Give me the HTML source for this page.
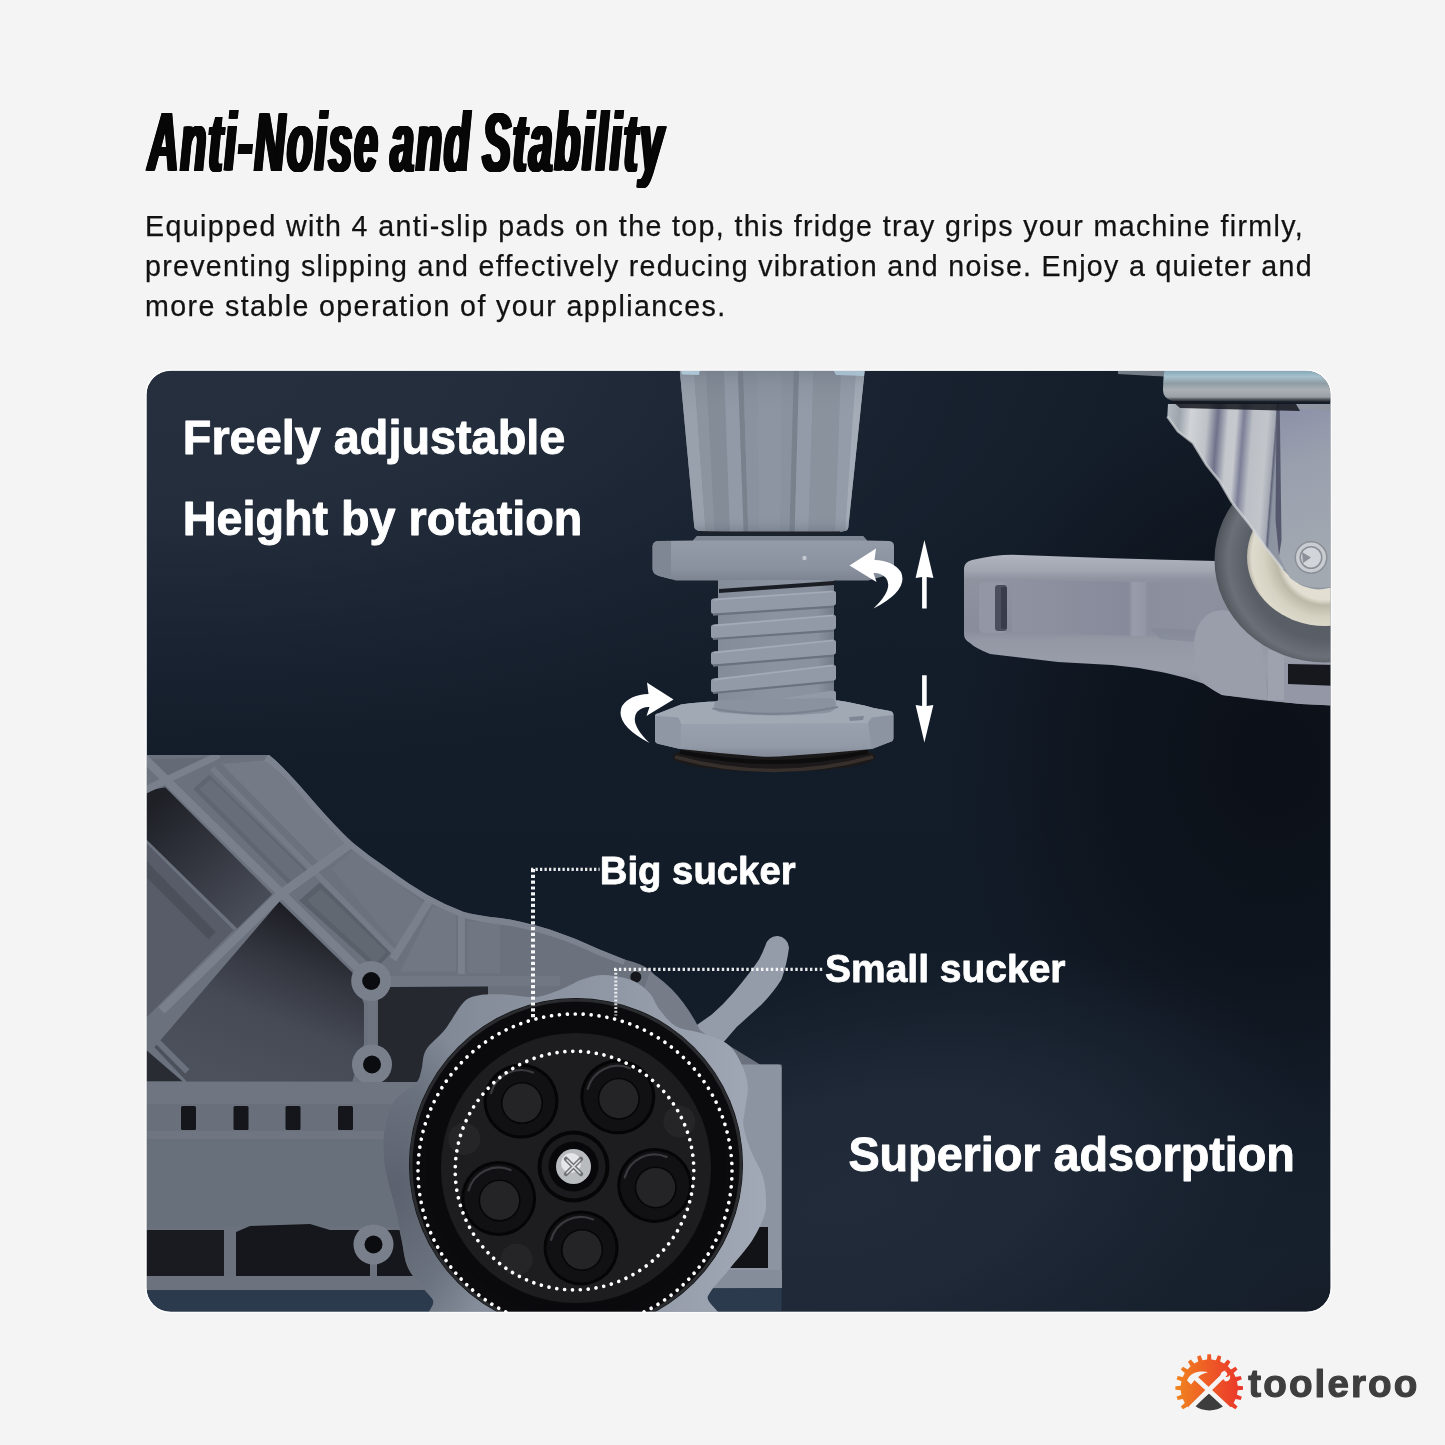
<!DOCTYPE html>
<html lang="en">
<head>
<meta charset="utf-8">
<title>Anti-Noise and Stability</title>
<style>
*{box-sizing:border-box;margin:0;padding:0}
html,body{width:1445px;height:1445px;overflow:hidden;background:#f4f4f4}
body{font-family:"Liberation Sans",Arial,sans-serif;color:#111}
#page{position:relative;width:1445px;height:1445px;background:#f4f4f4;overflow:hidden}
h1.title{position:absolute;left:147.5px;top:95px;font:italic bold 84.3px/94px "Liberation Sans",sans-serif;color:#070707;white-space:nowrap;transform-origin:0 0;transform:scaleX(.5);letter-spacing:4.2px;word-spacing:-6px;
 text-shadow:1px 0 0 #070707,2px 0 0 #070707,3px 0 0 #070707,3.6px 0 0 #070707,-1px 0 0 #070707,-2px 0 0 #070707,-3px 0 0 #070707,-3.6px 0 0 #070707}
.desc{position:absolute;left:145px;top:0;will-change:transform;color:#121212;-webkit-text-stroke:.25px #121212;font:28.6px/40px "Liberation Sans",sans-serif;white-space:nowrap}
.desc span{position:absolute;left:0;display:block;height:40px}
#art{position:absolute;left:0;top:0;width:1445px;height:1445px;will-change:transform}
#art text{font-family:"Liberation Sans",Arial,sans-serif;font-weight:700;fill:#fff}
</style>
</head>
<body>
<div id="page">
<h1 class="title">Anti-Noise and Stability</h1>
<p class="desc">
<span style="top:205.6px;letter-spacing:1.36px">Equipped with 4 anti-slip pads on the top, this fridge tray grips your machine firmly,</span>
<span style="top:246px;letter-spacing:1.31px">preventing slipping and effectively reducing vibration and noise. Enjoy a quieter and</span>
<span style="top:286.3px;letter-spacing:1.39px">more stable operation of your appliances.</span>
</p>
<svg id="art" viewBox="0 0 1445 1445" width="1445" height="1445">
<defs>
<clipPath id="panelClip"><rect x="146.6" y="370.8" width="1184" height="941" rx="24" ry="24"/></clipPath>
<linearGradient id="bgBase" x1="0" y1="371" x2="0" y2="1312" gradientUnits="userSpaceOnUse">
<stop offset="0" stop-color="#141e2b"/><stop offset=".35" stop-color="#131d2a"/><stop offset=".6" stop-color="#121c28"/><stop offset="1" stop-color="#17212e"/>
</linearGradient>
<radialGradient id="bgTL" cx="0" cy="0" r="1" gradientUnits="userSpaceOnUse" gradientTransform="translate(147 371) scale(1000 400)">
<stop offset="0" stop-color="#262f3e" stop-opacity="1"/><stop offset=".35" stop-color="#252e3d" stop-opacity=".95"/><stop offset=".65" stop-color="#212b3a" stop-opacity=".5"/><stop offset="1" stop-color="#1c2636" stop-opacity="0"/>
</radialGradient>
<radialGradient id="bgDark" cx="0" cy="0" r="1" gradientUnits="userSpaceOnUse" gradientTransform="translate(1275 760) scale(330 400)">
<stop offset="0" stop-color="#0b0f17" stop-opacity=".95"/><stop offset=".5" stop-color="#0c1119" stop-opacity=".7"/><stop offset="1" stop-color="#0c1018" stop-opacity="0"/>
</radialGradient>
<radialGradient id="bgLight" cx="0" cy="0" r="1" gradientUnits="userSpaceOnUse" gradientTransform="translate(850 1200) rotate(-14) scale(470 230)">
<stop offset="0" stop-color="#212b3a" stop-opacity="1"/><stop offset=".45" stop-color="#202a39" stop-opacity=".85"/><stop offset=".75" stop-color="#1e2837" stop-opacity=".4"/><stop offset="1" stop-color="#1e2837" stop-opacity="0"/>
</radialGradient>
<radialGradient id="bgBR" cx="0" cy="0" r="1" gradientUnits="userSpaceOnUse" gradientTransform="translate(1345 1325) scale(150 80)">
<stop offset="0" stop-color="#141922" stop-opacity=".6"/><stop offset="1" stop-color="#131820" stop-opacity="0"/>
</radialGradient>
</defs>
<g clip-path="url(#panelClip)">
<rect x="146" y="370" width="1186" height="943" fill="url(#bgBase)"/>
<rect x="146" y="370" width="1186" height="943" fill="url(#bgTL)"/>
<rect x="146" y="370" width="1186" height="943" fill="url(#bgDark)"/>
<rect x="146" y="370" width="1186" height="943" fill="url(#bgLight)"/>
<rect x="146" y="370" width="1186" height="943" fill="url(#bgBR)"/>
<filter id="soft" x="-2%" y="-2%" width="104%" height="104%" color-interpolation-filters="sRGB"><feGaussianBlur stdDeviation="0.55"/></filter>
<g filter="url(#soft)">
<defs>
<linearGradient id="legG" x1="680" y1="0" x2="865" y2="0" gradientUnits="userSpaceOnUse">
<stop offset="0" stop-color="#7b838f"/><stop offset=".12" stop-color="#838b97"/><stop offset=".13" stop-color="#8b93a0"/>
<stop offset=".24" stop-color="#8a929f"/><stop offset=".25" stop-color="#98a0ae"/><stop offset=".30" stop-color="#8e96a3"/><stop offset=".35" stop-color="#7f8794"/><stop offset=".36" stop-color="#8b93a0"/>
<stop offset=".60" stop-color="#8c94a1"/><stop offset=".61" stop-color="#7c8491"/><stop offset=".64" stop-color="#969eac"/><stop offset=".70" stop-color="#8b93a0"/><stop offset=".71" stop-color="#8a929f"/>
<stop offset=".88" stop-color="#8d95a2"/><stop offset=".89" stop-color="#959dab"/><stop offset="1" stop-color="#868e9b"/>
</linearGradient>
<linearGradient id="legShade" x1="0" y1="371" x2="0" y2="532" gradientUnits="userSpaceOnUse">
<stop offset="0" stop-color="#6c7682" stop-opacity=".5"/><stop offset=".04" stop-color="#6c7682" stop-opacity=".3"/><stop offset=".08" stop-color="#5e6672" stop-opacity=".12"/><stop offset=".3" stop-color="#8a929f" stop-opacity="0"/><stop offset=".9" stop-color="#8a929f" stop-opacity="0"/><stop offset="1" stop-color="#596170" stop-opacity=".35"/>
</linearGradient>
<linearGradient id="nutG" x1="0" y1="534" x2="0" y2="582" gradientUnits="userSpaceOnUse">
<stop offset="0" stop-color="#8a929f"/><stop offset=".15" stop-color="#939ba9"/><stop offset=".7" stop-color="#8a92a0"/><stop offset="1" stop-color="#7b8390"/>
</linearGradient>
<linearGradient id="screwG" x1="711" y1="0" x2="836" y2="0" gradientUnits="userSpaceOnUse">
<stop offset="0" stop-color="#838b98"/><stop offset=".5" stop-color="#8b93a0"/><stop offset=".85" stop-color="#8a929f"/><stop offset="1" stop-color="#737b88"/>
</linearGradient>
<linearGradient id="nut2G" x1="0" y1="702" x2="0" y2="754" gradientUnits="userSpaceOnUse">
<stop offset="0" stop-color="#9ba3b0"/><stop offset=".4" stop-color="#99a1ae"/><stop offset=".85" stop-color="#929aa7"/><stop offset="1" stop-color="#858d9a"/>
</linearGradient>
</defs>
<!-- adjustable leg -->
<g id="leg">
<clipPath id="legClip"><path d="M679.4 366 L865.2 366 L848.2 528 Q847.5 531 842 531.5 Q773 533.5 700 531 Q695 530.5 694.3 527 Z"/></clipPath>
<g clip-path="url(#legClip)">
<rect x="675" y="364" width="195" height="172" fill="#8a929f"/>
<path d="M678.3 364 L693.5 364 L705.7 533 L692.7 533 Z" fill="#98a1ac"/>
<path d="M693.5 364 L705.7 364 L714.8 533 L705.7 533 Z" fill="#8c949f"/>
<path d="M705.7 364 L723.9 364 L730.0 533 L714.8 533 Z" fill="#848c98"/>
<path d="M723.9 364 L737.6 364 L743.7 533 L730.0 533 Z" fill="#929aa7"/>
<path d="M737.6 364 L743.0 364 L748.3 533 L743.7 533 Z" fill="#79818d"/>
<path d="M743.0 364 L766.6 364 L769.6 533 L748.3 533 Z" fill="#8a929f"/>
<path d="M757.4 364 L781.8 364 L780.3 533 L759.0 533 Z" fill="#8f97a4" opacity="0.7"/>
<path d="M794.0 364 L799.3 364 L794.7 533 L789.4 533 Z" fill="#79818d"/>
<path d="M799.3 364 L813.8 364 L808.4 533 L794.7 533 Z" fill="#939ba8"/>
<path d="M813.8 364 L841.2 364 L835.1 533 L808.4 533 Z" fill="#8a929e"/>
<path d="M841.2 364 L856.4 364 L845.0 533 L835.1 533 Z" fill="#949caa"/>
<path d="M856.4 364 L865.5 364 L849.6 533 L845.0 533 Z" fill="#a4acb7"/>
<rect x="675" y="364" width="195" height="172" fill="url(#legShade)"/>
<path d="M679 364 L701 364 L699 375 L682 374.5 Z" fill="#b4d0e0" opacity=".85"/><path d="M830 364 L866 364 L864 376 L836 375 Z" fill="#b0cbdc" opacity=".8"/>
</g>
<rect x="700" y="531.5" width="140" height="3.5" fill="#1d2129"/>
<!-- top nut -->
<path d="M697 536 L863 536 L867 540.5 L889 541 Q894 541.5 894 546 L894 570 Q893 574 888 575 L868 580.5 L676 580.5 L659 576 Q652.6 574 652.6 569 L652.6 546 Q653 541.5 658 541 L693 540.5 Z" fill="url(#nutG)"/>
<path d="M652.6 546 Q653 541.5 658 541 L671 541 L671 579 L659 576 Q652.6 574 652.6 569 Z" fill="#7f8794"/>
<path d="M697 536 L863 536 L867 540.5 L693 540.5 Z" fill="#7e8693"/>
<circle cx="804.5" cy="558" r="2.2" fill="#c3c8d0"/>
<!-- screw -->
<rect x="718" y="580" width="116" height="130" fill="url(#screwG)"/>
<path d="M719 589 L834 581 L834 585 L719 593 Z" fill="#1a1d24"/>
<g fill="#929aa8">
<path d="M711 601 Q711 599 714 598.6 L832 590.5 Q836 590.5 836 593 L836 603 Q836 605.5 832 606 L714 614 Q711 614 711 611.5 Z"/>
<path d="M711 627 Q711 625 714 624.6 L832 614.5 Q836 614.5 836 617 L836 627 Q836 629.5 832 630 L714 638.5 Q711 638.5 711 636 Z"/>
<path d="M711 654 Q711 652 714 651.6 L832 639.5 Q836 639.5 836 642 L836 652 Q836 654.5 832 655 L714 665 Q711 665 711 662.5 Z"/>
<path d="M711 681 Q711 679 714 678.6 L832 664.5 Q836 664.5 836 667 L836 678 Q836 680.5 832 681 L714 692.5 Q711 692.5 711 690 Z"/>
<path d="M722 708 L832 690.5 Q836 690.5 836 693 L836 706 Q836 710 830 710 L722 712 Z"/>
</g>
<g fill="none" stroke="#6a7280" stroke-width="2.2">
<path d="M713 614.6 L834 606.6"/><path d="M713 639 L834 630.6"/><path d="M713 665.6 L834 655.6"/><path d="M713 693 L834 681.6"/>
</g>
<g fill="none" stroke="#a3abb8" stroke-width="1.6">
<path d="M714 599.6 L833 591.5"/><path d="M714 625.6 L833 615.5"/><path d="M714 652.6 L833 640.5"/><path d="M714 679.6 L833 665.5"/>
</g>
<!-- rubber pad -->
<ellipse cx="774" cy="757" rx="101.5" ry="15" fill="#1b1919"/>
<path d="M675 757 Q774 784 873 757" fill="none" stroke="#3b322e" stroke-width="3.5" opacity=".9"/>
<path d="M680 752 Q774 772 868 752" fill="none" stroke="#0d0c0d" stroke-width="4" opacity=".9"/>
<!-- bottom nut -->
<path d="M655 716 Q655 714 658 713.5 L681 704.5 Q700 701.8 716 701.5 L838 700.5 Q858 703.5 873.6 708 L890 711 Q893.4 711.8 893.4 715 L893.4 738 Q893.4 741.5 890 742 L872 749 Q832 753 789.5 755.7 Q774 757.3 759.6 756.6 Q720 753.5 680.2 749.1 L659 744 Q655 743.5 655 740 Z" fill="url(#nut2G)"/>
<path d="M655 716 Q655 714 658 713.5 L681 704.5 Q700 701.8 716 701.5 L838 700.5 Q858 703.5 873.6 708 L890 711 Q893.4 711.8 893.4 715 L871.7 717.4 L868 723 L681.1 723.9 L678.3 717.4 Z" fill="#a1a9b5"/>
<path d="M655 716 L678.3 717.4 L681.1 723.9 L680.2 749.1 L659 744 Q655 743.5 655 740 Z" fill="#8f97a4"/>
<path d="M893.4 715 L871.7 717.4 L868 723 L871.7 749 L890 742 Q893.4 741.5 893.4 738 Z" fill="#8c94a1"/>
<path d="M714 706 Q714 700 720 700 L828 698 Q836 698 836 704 Q836 712 826 713 Q775 718 722 712.5 Q714 711.5 714 706 Z" fill="#8a929f"/>
<path d="M712.5 708.5 Q775 720 838 707" fill="none" stroke="#7a828f" stroke-width="2.2"/>
<path d="M849 717 L864 716 L863 720 L850 721 Z" fill="#7f8794"/>
</g>
<!-- arrows -->
<g fill="#fff">
<path d="M924.4 540 L933.4 578 L926.7 577 L926.7 608.4 L922.1 608.4 L922.1 577 L915.6 578 Z"/>
<path d="M924.4 742.5 L933.4 705 L926.7 706 L926.7 675.2 L922.1 675.2 L922.1 706 L915.6 705 Z"/>
<path d="M849.5 565.5 L876 548.5 L874.5 560 Q893 560.5 901 572 Q909 590 873.5 608.5 Q894 589 886 578 Q880.5 572.5 873.5 573 L876.5 582 Z"/>
<path d="M673.5 699.5 L647 682.5 L648.5 694 Q630 694.5 622 706 Q614 724 649.5 743 Q629 723 637 712 Q642.5 706.5 649.5 707 L646.5 716 Z"/>
</g>
<defs>
<linearGradient id="armG" x1="0" y1="555" x2="0" y2="706" gradientUnits="userSpaceOnUse">
<stop offset="0" stop-color="#b0b4bf"/><stop offset=".1" stop-color="#a2a6b1"/><stop offset=".16" stop-color="#8f93a0"/><stop offset=".5" stop-color="#898d9b"/><stop offset=".56" stop-color="#9498a5"/><stop offset=".75" stop-color="#9a9eab"/><stop offset="1" stop-color="#8a8e9b"/>
</linearGradient>
<linearGradient id="armIn" x1="1010" y1="0" x2="1215" y2="0" gradientUnits="userSpaceOnUse">
<stop offset="0" stop-color="#8e92a1"/><stop offset=".58" stop-color="#868a9a"/><stop offset=".6" stop-color="#999dab"/><stop offset=".66" stop-color="#9397a5"/><stop offset=".67" stop-color="#8a8e9d"/><stop offset="1" stop-color="#8c909f"/>
</linearGradient>
<radialGradient id="tyreG" cx="1325" cy="560" r="110" gradientUnits="userSpaceOnUse">
<stop offset="0" stop-color="#53585f"/><stop offset=".72" stop-color="#5a5f67"/><stop offset=".88" stop-color="#6b7078"/><stop offset="1" stop-color="#50555c"/>
</radialGradient>
<radialGradient id="hubG" cx="1325" cy="557" r="78" gradientUnits="userSpaceOnUse">
<stop offset="0" stop-color="#e6e3d8"/><stop offset=".55" stop-color="#e2dfd2"/><stop offset=".62" stop-color="#bdb9a8"/><stop offset=".78" stop-color="#d6d2c2"/><stop offset=".94" stop-color="#dedbcd"/><stop offset="1" stop-color="#b5b2a6"/>
</radialGradient>
<linearGradient id="brkG" x1="1167" y1="0" x2="1331" y2="0" gradientUnits="userSpaceOnUse" gradientTransform="translate(32 0) skewX(-4.5)">
<stop offset="0" stop-color="#b4bac0"/><stop offset=".08" stop-color="#9ea5ae"/><stop offset=".15" stop-color="#d0d3d7"/><stop offset=".25" stop-color="#bfc3c8"/><stop offset=".315" stop-color="#6f728a"/><stop offset=".38" stop-color="#c4c8cd"/><stop offset=".43" stop-color="#c6c9ce"/><stop offset=".475" stop-color="#7c7f97"/><stop offset=".53" stop-color="#bcc0c6"/><stop offset=".62" stop-color="#c2c5ca"/><stop offset=".665" stop-color="#a4a8b3"/><stop offset=".675" stop-color="#62657a"/><stop offset=".69" stop-color="#8c93a0"/><stop offset=".8" stop-color="#9299a4"/><stop offset="1" stop-color="#8d949e"/>
</linearGradient>
<linearGradient id="plateG" x1="0" y1="371" x2="0" y2="402" gradientUnits="userSpaceOnUse">
<stop offset="0" stop-color="#86a9ba"/><stop offset=".18" stop-color="#a6c0cc"/><stop offset=".4" stop-color="#8e9ca4"/><stop offset=".6" stop-color="#aab0b4"/><stop offset=".84" stop-color="#9aa0a5"/><stop offset=".9" stop-color="#5d636a"/><stop offset="1" stop-color="#1a1d23"/>
</linearGradient>
<linearGradient id="sideG" x1="1280" y1="410" x2="1331" y2="560" gradientUnits="userSpaceOnUse">
<stop offset="0" stop-color="#8d91a8"/><stop offset=".35" stop-color="#9a9fae"/><stop offset="1" stop-color="#a3a9b1"/>
</linearGradient>
</defs>
<g id="caster">
<!-- gray arm -->
<path d="M972 560 Q1000 553.5 1020 555 L1112 558.3 L1216 561 L1260 600 L1338 640 L1338 705.8 L1301 704 L1260 700 L1222 695 Q1210 688 1203 683.5 Q1185 677 1166 673 Q1140 667.5 1112 665 L1058 662 L990 654 Q975 648 970 643 Q964 640 964 634 L964 568 Q964.5 562 972 560 Z" fill="url(#armG)"/>
<path d="M1012 580 L1214 583 L1214 632 L1140 636 L1012 632 Z" fill="url(#armIn)"/>
<path d="M1150 628 L1196 630 L1196 642 L1160 639 Z" fill="#858999" opacity=".7"/>
<rect x="979" y="582" width="28" height="51" rx="5" fill="#9397a5"/>
<rect x="995" y="585" width="12" height="46" rx="3" fill="#4b4f5d"/>
<rect x="1001" y="587" width="6" height="42" rx="2" fill="#393c49"/>
<path d="M1194 640 Q1198 612 1222 610 Q1250 612 1262 648 L1268 700 L1222 695 Q1200 684 1195 670 Z" fill="#999eaa"/>
<path d="M1268 662 L1338 664 L1338 705.8 L1301 704 L1268 700.5 Z" fill="#9498a6"/>
<path d="M1288 664 L1338 665 L1338 686 L1288 684 Z" fill="#16181e"/>
<rect x="1268" y="650" width="16" height="50" fill="#9ea2af"/>
<!-- wheel -->
<ellipse cx="1325" cy="560" rx="110.5" ry="102.5" fill="url(#tyreG)"/>
<ellipse cx="1325" cy="557" rx="78" ry="69" fill="url(#hubG)"/>
<!-- top plate -->
<path d="M1118 365 L1172 365 L1172 377 L1118 374 Z" fill="#747c88"/>
<path d="M1166 364 L1338 364 L1338 402 L1172 401 Q1163 398 1163 390 Q1163 374 1166 364 Z" fill="url(#plateG)"/>
<!-- fork bracket -->
<path d="M1168 404 L1338 404 L1338 586 Q1322 590 1316 589.3 Q1306 588 1299.3 584.3 Q1290 578 1282.7 569.3 L1266 547.7 L1249.5 524.5 L1231.2 501.2 L1219.6 481.3 L1206.3 464.7 L1193 443 L1178 431.4 L1167.3 416.5 Z" fill="url(#brkG)"/>
<path d="M1277.5 408 L1318 409 L1338 412 L1338 586 Q1306 592 1290 578 L1279 556 Z" fill="url(#sideG)"/>
<path d="M1276.5 410 L1279.8 410 L1281.5 540 L1279 556 L1275.5 520 Z" fill="#56596e"/>
<path d="M1172 401 L1296 404 L1300 411 L1180 408 Z" fill="#15181e" opacity=".85"/>
<path d="M1167.3 416.5 L1178 431.4 L1193 443 L1206.3 464.7 L1219.6 481.3 L1231.2 501.2 L1249.5 524.5 L1266 547.7 L1282.7 569.3" fill="none" stroke="#d5d8dc" stroke-width="2.5" opacity=".7"/>
<circle cx="1311" cy="557.5" r="16.5" fill="#8b9098"/>
<circle cx="1311" cy="557.5" r="15" fill="#c9cdd2"/>
<circle cx="1311" cy="557.5" r="11.5" fill="#8a8f97"/>
<circle cx="1311" cy="557.5" r="10" fill="#d2d5d9"/>
<path d="M1311 557.5 L1302 552 L1303 563 Z" fill="#8c9199"/>
</g>
<defs>
<linearGradient id="cavA" x1="155" y1="800" x2="250" y2="910" gradientUnits="userSpaceOnUse">
<stop offset="0" stop-color="#1e2026"/><stop offset=".5" stop-color="#32353e"/><stop offset="1" stop-color="#484c57"/>
</linearGradient>
<linearGradient id="cavB" x1="300" y1="910" x2="230" y2="1080" gradientUnits="userSpaceOnUse">
<stop offset="0" stop-color="#1c1d23"/><stop offset=".3" stop-color="#33363f"/><stop offset=".6" stop-color="#464a55"/><stop offset="1" stop-color="#4d515c"/>
</linearGradient>
<linearGradient id="baseTop" x1="147" y1="760" x2="500" y2="930" gradientUnits="userSpaceOnUse">
<stop offset="0" stop-color="#6c7481"/><stop offset="1" stop-color="#7d8592"/>
</linearGradient>
</defs>
<g id="base">
<path d="M140 1290 L781.6 1288 L781.6 1320 L140 1320 Z" fill="#2b3a4c"/>
<clipPath id="baseClip"><path d="M140 755 L269.5 755 Q285 768 314 802 Q333 824 351.8 842 Q370 857 389 869.5 Q407 883 426.5 894.5 Q445 905 463.9 912 Q480 916 500 918 Q522 921 549.8 929.6 Q575 938 599.6 949.6 L624.6 959.5 Q640 963 649.5 969.5 Q664 984 674.4 999.4 L694.3 1024.3 L760 1064.6 L781.6 1064.6 L781.6 1288 L140 1290 Z"/></clipPath>
<path d="M140 755 L269.5 755 Q285 768 314 802 Q333 824 351.8 842 Q370 857 389 869.5 Q407 883 426.5 894.5 Q445 905 463.9 912 Q480 916 500 918 Q522 921 549.8 929.6 Q575 938 599.6 949.6 L624.6 959.5 Q640 963 649.5 969.5 Q664 984 674.4 999.4 L694.3 1024.3 L760 1064.6 L781.6 1064.6 L781.6 1288 L140 1290 Z" fill="#6b727d"/>
<g clip-path="url(#baseClip)">
<polygon points="145.4,790.9 165.2,787.3 272.2,894.3 237.2,928.5 145.4,838.6" fill="url(#cavA)"/>
<polygon points="145.4,842.2 233.6,930.3 145.4,1018.5" fill="#575c68"/>
<polygon points="145.4,860.1 215.6,932.1 208.4,939.3 145.4,876.3" fill="#4b505b"/>
<polygon points="279.4,901.5 352.3,972.6 364.0,1004.1 364.0,1043.7 352.3,1081.5 186.8,1081.5 154.4,1047.3" fill="url(#cavB)"/>
<polygon points="145.0,1048.9 182.4,1081.3 145.0,1081.3" fill="#2a2c33"/>
<rect x="378" y="986" width="110" height="97" fill="#26282f"/>
<polygon points="150.8,759.4 212.0,757.6 168.8,781.0" fill="#646b76"/>
<polygon points="193.1,789.1 209.3,774.7 310.0,873.6 292.9,888.9" fill="#5f6671"/>
<polygon points="199.4,789.1 211.1,779.2 307.3,873.6 294.7,884.4" fill="#676e79"/>
<polygon points="221.9,763.9 265.9,760.3 346.9,839.5 321.7,865.5" fill="#747b87"/>
<polygon points="299.2,900.6 319.9,882.6 391.9,951.9 375.7,969.0" fill="#596069"/>
<polygon points="307.3,900.6 320.8,888.9 386.5,951.9 375.7,963.6" fill="#616872"/>
<polygon points="331.6,869.1 355.0,848.5 427.9,906.9 399.1,948.3" fill="#6f7681"/>
<polygon points="432.7,905.7 455.9,914.4 455.9,971.7 400.3,971.7" fill="#717883"/>
<polygon points="467.6,920.6 500.0,924.4 500.0,972.9 467.6,972.9" fill="#707782"/>
<path d="M212.0 768.4 L395.5 953.7" stroke="#757c88" stroke-width="5.5" fill="none" stroke-linecap="butt"/>
<path d="M145.4 790.0 L219.2 754.9" stroke="#7a818d" stroke-width="7" fill="none" stroke-linecap="butt"/>
<path d="M161.6 1010.4 L279.4 895.2 L353.2 841.8" stroke="#7a818d" stroke-width="9" fill="none" stroke-linejoin="round"/>
<path d="M141.8 755.8 L372.1 982.5" stroke="#7a818d" stroke-width="8.5" fill="none" stroke-linecap="butt"/>
<path d="M392.9 959.2 L430.2 899.4" stroke="#7a818d" stroke-width="8" fill="none" stroke-linecap="butt"/>
<path d="M461.4 914.4 L461.4 974.2" stroke="#7a818d" stroke-width="7" fill="none" stroke-linecap="butt"/>
<path d="M145.0 1029.0 L187.3 1071.3" stroke="#6b727d" stroke-width="6" fill="none" stroke-linecap="butt"/>
<path d="M266 757.5 Q285 770 312 803 Q333 826 350 843.5 Q370 859 387.5 871.5 Q407 885 425 896.5 Q445 907 463 914 Q480 918.5 500 921 Q522 923.5 549 932 Q575 940 598.6 951.6 L624.6 961.5" fill="none" stroke="#7c838f" stroke-width="7"/>
</g>
<rect x="367.5" y="985" width="9" height="100" fill="#6e7581"/>
<path d="M388 976 L560 976 L560 986 L388 987 Z" fill="#717884"/>
<circle cx="371.2" cy="981" r="20" fill="#79808c"/><circle cx="371.2" cy="981" r="9" fill="#0b0c10"/>
<circle cx="372" cy="1064.5" r="20" fill="#79808c"/><circle cx="372" cy="1064.5" r="9" fill="#0b0c10"/>
<circle cx="373.5" cy="1244.5" r="20" fill="#79808c"/><circle cx="373.5" cy="1244.5" r="9" fill="#0b0c10"/>
<rect x="140" y="1082" width="306" height="23" fill="#6f7682"/>
<rect x="140" y="1104" width="306" height="28" fill="#69707b"/>
<rect x="181" y="1106" width="15" height="24" rx="1.5" fill="#15161b"/>
<rect x="233.5" y="1106" width="15" height="24" rx="1.5" fill="#15161b"/>
<rect x="285.5" y="1106" width="15" height="24" rx="1.5" fill="#15161b"/>
<rect x="338" y="1106" width="15" height="24" rx="1.5" fill="#15161b"/>
<rect x="140" y="1131" width="306" height="96" fill="#68707b"/>
<rect x="140" y="1131" width="306" height="8" fill="#6f7682"/>
<rect x="140" y="1230" width="84" height="46" fill="#1a1b21"/>
<path d="M236 1232 L250 1226 L310 1224 L330 1230 L420 1230 L420 1276 L236 1276 Z" fill="#16171c"/>
<rect x="224" y="1228" width="12" height="50" fill="#6b727e"/>
<rect x="140" y="1276.5" width="306" height="13.5" fill="#6c737f"/>
<rect x="370" y="1262" width="7" height="16" fill="#6c737f"/>
<circle cx="373.5" cy="1244.5" r="20" fill="#79808c"/><circle cx="373.5" cy="1244.5" r="9" fill="#0b0c10"/>
<path d="M700 1064.6 L778 1064.6 Q781.6 1064.6 781.6 1068 L781.6 1288 L700 1288 Z" fill="#8c94a2"/>
<rect x="710" y="1227" width="58" height="41" fill="#121317"/>
<rect x="700" y="1270" width="82" height="18" fill="#858d9a"/>
<circle cx="635.8" cy="977" r="5.5" fill="#15161b"/>
<path d="M694 1027 L711.8 1014.4 Q724 1004 734 992 Q750 973 759 959.5 Q762.5 953 765.2 946 A12 12 0 0 1 789 947.5 Q787 964 781.5 979.5 Q773 993 761.6 1004.4 L736.7 1027 L722 1044 L700 1046 Z" fill="#949ca9"/>
<path d="M650 972 Q680 990 700 1030 L720 1045 L690 1050 L640 1000 Z" fill="#767d89"/>
</g>
<defs>
<linearGradient id="knobG" x1="383" y1="0" x2="766" y2="0" gradientUnits="userSpaceOnUse">
<stop offset="0" stop-color="#7a828f"/><stop offset=".25" stop-color="#858d9a"/><stop offset=".6" stop-color="#9098a5"/><stop offset="1" stop-color="#a2a9b6"/>
</linearGradient>
<radialGradient id="knobSh" cx="0" cy="0" r="1" gradientUnits="userSpaceOnUse" gradientTransform="translate(395 1190) scale(110 170)">
<stop offset="0" stop-color="#555c68" stop-opacity=".85"/><stop offset=".6" stop-color="#5a616d" stop-opacity=".55"/><stop offset="1" stop-color="#5a616d" stop-opacity="0"/>
</radialGradient>
</defs>
<g id="sucker">
<path d="M601.5 975 C607.8 974.6 614.5 975.9 620 977 C625.5 978.1 629.8 978.9 634.7 981.6 C639.7 984.3 645.5 988.5 649.7 993.2 C653.9 997.9 655.3 1004.3 659.7 1009.8 C664.1 1015.3 669.4 1022.5 676.3 1026.4 C683.2 1030.3 692.9 1030.2 701.2 1033 C709.5 1035.8 719.6 1038.5 726 1043 C732.4 1047.5 735.8 1052.8 739.4 1059.7 C743.0 1066.6 746.8 1076.3 747.7 1084.6 C748.6 1092.9 745.7 1102.6 745 1109.5 C744.3 1116.4 742.5 1119.1 743.5 1126 C744.5 1132.9 747.8 1142.7 751 1151 C754.2 1159.3 760.2 1167.8 762.7 1176 C765.2 1184.2 765.8 1193.3 766 1200 C766.2 1206.7 766.3 1209.2 764 1216 C761.7 1222.8 757.9 1231.8 752 1240.7 C746.1 1249.7 736.1 1260.5 728.8 1269.7 C721.5 1278.9 712.8 1286.8 708 1296 C703.2 1305.2 742.7 1320.2 700 1325 C657.3 1329.8 496.6 1329.4 452 1325 C407.4 1320.6 439.5 1308.0 432.3 1298.8 C425.1 1289.6 414.1 1279.4 409 1269.7 C403.9 1260.0 404.0 1250.4 401.8 1240.7 C399.6 1231.0 398.5 1222.4 396 1211.6 C393.5 1200.8 388.7 1186.1 386.6 1176 C384.5 1165.9 383.6 1159.3 383.3 1151 C383.0 1142.7 383.1 1134.5 385 1126 C386.9 1117.5 389.7 1107.2 394.9 1100 C400.1 1092.8 411.6 1088.0 416 1083 C420.4 1078.0 419.8 1075.5 421.5 1070 C423.2 1064.5 422.1 1056.7 426 1050 C429.9 1043.3 438.6 1037.6 444.8 1029.8 C451.0 1022.0 457.5 1008.7 463 1003 C468.5 997.3 471.0 996.9 478 995.5 C485.0 994.1 495.3 994.2 505 994.5 C514.7 994.8 526.5 997.9 536 997 C545.5 996.1 554.3 991.9 562 989 C569.7 986.1 575.4 981.8 582 979.5 C588.6 977.2 595.2 975.4 601.5 975 Z" fill="url(#knobG)"/>
<path d="M601.5 975 C607.8 974.6 614.5 975.9 620 977 C625.5 978.1 629.8 978.9 634.7 981.6 C639.7 984.3 645.5 988.5 649.7 993.2 C653.9 997.9 655.3 1004.3 659.7 1009.8 C664.1 1015.3 669.4 1022.5 676.3 1026.4 C683.2 1030.3 692.9 1030.2 701.2 1033 C709.5 1035.8 719.6 1038.5 726 1043 C732.4 1047.5 735.8 1052.8 739.4 1059.7 C743.0 1066.6 746.8 1076.3 747.7 1084.6 C748.6 1092.9 745.7 1102.6 745 1109.5 C744.3 1116.4 742.5 1119.1 743.5 1126 C744.5 1132.9 747.8 1142.7 751 1151 C754.2 1159.3 760.2 1167.8 762.7 1176 C765.2 1184.2 765.8 1193.3 766 1200 C766.2 1206.7 766.3 1209.2 764 1216 C761.7 1222.8 757.9 1231.8 752 1240.7 C746.1 1249.7 736.1 1260.5 728.8 1269.7 C721.5 1278.9 712.8 1286.8 708 1296 C703.2 1305.2 742.7 1320.2 700 1325 C657.3 1329.8 496.6 1329.4 452 1325 C407.4 1320.6 439.5 1308.0 432.3 1298.8 C425.1 1289.6 414.1 1279.4 409 1269.7 C403.9 1260.0 404.0 1250.4 401.8 1240.7 C399.6 1231.0 398.5 1222.4 396 1211.6 C393.5 1200.8 388.7 1186.1 386.6 1176 C384.5 1165.9 383.6 1159.3 383.3 1151 C383.0 1142.7 383.1 1134.5 385 1126 C386.9 1117.5 389.7 1107.2 394.9 1100 C400.1 1092.8 411.6 1088.0 416 1083 C420.4 1078.0 419.8 1075.5 421.5 1070 C423.2 1064.5 422.1 1056.7 426 1050 C429.9 1043.3 438.6 1037.6 444.8 1029.8 C451.0 1022.0 457.5 1008.7 463 1003 C468.5 997.3 471.0 996.9 478 995.5 C485.0 994.1 495.3 994.2 505 994.5 C514.7 994.8 526.5 997.9 536 997 C545.5 996.1 554.3 991.9 562 989 C569.7 986.1 575.4 981.8 582 979.5 C588.6 977.2 595.2 975.4 601.5 975 Z" fill="url(#knobSh)"/>
<circle cx="576" cy="1165" r="167" fill="#0b0b0d"/>
<circle cx="576" cy="1165" r="165" fill="none" stroke="#2a2b2e" stroke-width="3"/>
<circle cx="576" cy="1166" r="150" fill="#0a0a0c"/>
<circle cx="576" cy="1168" r="135" fill="#1d1d20"/>
<circle cx="464.3" cy="1138.9" r="16" fill="#252528"/>
<circle cx="679.4" cy="1121.5" r="16" fill="#252528"/>
<circle cx="516.6" cy="1259.5" r="16" fill="#252528"/>
<circle cx="521.0" cy="1101.1" r="37.5" fill="#050506"/><circle cx="521.0" cy="1101.1" r="34.5" fill="#111113"/><path d="M491.0 1093.1 A31 31 0 0 1 533.0 1072.6" fill="none" stroke="#3a3a3e" stroke-width="2.2" stroke-linecap="round"/><circle cx="522.0" cy="1103.1" r="21" fill="#060607"/><circle cx="522.0" cy="1103.1" r="19.5" fill="#242427"/>
<circle cx="617.8" cy="1096.8" r="37.5" fill="#050506"/><circle cx="617.8" cy="1096.8" r="34.5" fill="#111113"/><path d="M587.8 1088.8 A31 31 0 0 1 629.8 1068.3" fill="none" stroke="#3a3a3e" stroke-width="2.2" stroke-linecap="round"/><circle cx="618.8" cy="1098.8" r="21" fill="#060607"/><circle cx="618.8" cy="1098.8" r="19.5" fill="#242427"/>
<circle cx="654.7" cy="1185.4" r="37.5" fill="#050506"/><circle cx="654.7" cy="1185.4" r="34.5" fill="#111113"/><path d="M624.7 1177.4 A31 31 0 0 1 666.7 1156.9" fill="none" stroke="#3a3a3e" stroke-width="2.2" stroke-linecap="round"/><circle cx="655.7" cy="1187.4" r="21" fill="#060607"/><circle cx="655.7" cy="1187.4" r="19.5" fill="#242427"/>
<circle cx="581.1" cy="1247.9" r="37.5" fill="#050506"/><circle cx="581.1" cy="1247.9" r="34.5" fill="#111113"/><path d="M551.1 1239.9 A31 31 0 0 1 593.1 1219.4" fill="none" stroke="#3a3a3e" stroke-width="2.2" stroke-linecap="round"/><circle cx="582.1" cy="1249.9" r="21" fill="#060607"/><circle cx="582.1" cy="1249.9" r="19.5" fill="#242427"/>
<circle cx="498.6" cy="1198.5" r="37.5" fill="#050506"/><circle cx="498.6" cy="1198.5" r="34.5" fill="#111113"/><path d="M468.6 1190.5 A31 31 0 0 1 510.6 1170.0" fill="none" stroke="#3a3a3e" stroke-width="2.2" stroke-linecap="round"/><circle cx="499.6" cy="1200.5" r="21" fill="#060607"/><circle cx="499.6" cy="1200.5" r="19.5" fill="#242427"/>
<circle cx="573.5" cy="1166.5" r="36" fill="#060607"/><circle cx="573.5" cy="1166.5" r="32" fill="#1b1b1e"/><circle cx="573.5" cy="1166.5" r="25" fill="#08080a"/>
<circle cx="573.5" cy="1166.5" r="17.5" fill="#b9bcbf"/><circle cx="571" cy="1163" r="10" fill="#e4e6e8"/>
<path d="M566 1159 L581 1174 M581 1159 L566 1174" stroke="#6f7376" stroke-width="4.5" stroke-linecap="round"/>
<path d="M567 1160 L580 1173 M580 1160 L567 1173" stroke="#dfe1e3" stroke-width="1.6" stroke-linecap="round"/>
</g>
</g>
<g fill="none" stroke="#fff">
<circle cx="575" cy="1171" r="157" stroke-width="3.7" stroke-linecap="round" stroke-dasharray="0.01 7.945"/>
<circle cx="574.5" cy="1170.6" r="119.3" stroke-width="3.7" stroke-linecap="round" stroke-dasharray="0.01 7.88"/>
<path d="M533 869 L533 1019.5" stroke-width="4" stroke-dasharray="3.2 2.6" opacity=".95"/>
<path d="M531 869.4 L599.6 869.4" stroke-width="3.4" stroke-dasharray="2.3 2.2" opacity=".9"/>
<path d="M615.8 969 L615.8 1015.6" stroke-width="3" stroke-dasharray="2 1.8" opacity=".8"/>
<path d="M614 969.3 L823 969.3" stroke-width="3.3" stroke-dasharray="2.4 2.5" opacity=".9"/>
</g>
</g>
<rect x="145.9" y="370.1" width="1185.4" height="942.4" rx="24.7" ry="24.7" fill="none" stroke="#fcfcfc" stroke-width="1.4"/>
<g id="labels" stroke="#fff" stroke-linejoin="round">
<text x="182.8" y="454" font-size="48.5" stroke-width=".95" textLength="382.5" lengthAdjust="spacingAndGlyphs">Freely adjustable</text>
<text x="182.8" y="535.3" font-size="48.5" stroke-width=".95" textLength="399.5" lengthAdjust="spacingAndGlyphs">Height by rotation</text>
<text x="599.8" y="883.8" font-size="39.4" stroke-width=".8" textLength="195.8" lengthAdjust="spacingAndGlyphs">Big sucker</text>
<text x="825" y="982.2" font-size="39.4" stroke-width=".8" textLength="240.5" lengthAdjust="spacingAndGlyphs">Small sucker</text>
<text x="848.4" y="1171" font-size="48" stroke-width=".95" textLength="446.5" lengthAdjust="spacingAndGlyphs">Superior adsorption</text>
</g>
<defs>
<linearGradient id="lgG" x1="1176" y1="0" x2="1243" y2="0" gradientUnits="userSpaceOnUse">
<stop offset="0" stop-color="#f0841f"/><stop offset=".5" stop-color="#ee5a26"/><stop offset="1" stop-color="#ea352b"/>
</linearGradient>
<clipPath id="lgClip"><path d="M1170 1345 L1250 1345 L1250 1400 L1232 1412 L1209.2 1391.0 L1186 1412 L1170 1400 Z"/></clipPath>
</defs>
<g id="logo">
<g clip-path="url(#lgClip)"><path d="M1207.0 1359.5 L1207.4 1354.2 L1211.0 1354.2 L1211.4 1359.5 L1215.9 1360.2 L1215.9 1360.2 L1217.9 1355.3 L1221.3 1356.5 L1220.1 1361.6 L1224.1 1363.6 L1224.1 1363.6 L1227.6 1359.6 L1230.5 1361.8 L1227.8 1366.3 L1230.9 1369.4 L1230.9 1369.4 L1235.4 1366.7 L1237.6 1369.6 L1233.6 1373.1 L1235.6 1377.1 L1235.6 1377.1 L1240.7 1375.9 L1241.9 1379.3 L1237.0 1381.3 L1237.7 1385.8 L1237.7 1385.8 L1243.0 1386.2 L1243.0 1389.8 L1237.7 1390.2 L1237.0 1394.7 L1237.0 1394.7 L1241.9 1396.7 L1240.7 1400.1 L1235.6 1398.9 L1233.6 1402.9 L1233.6 1402.9 L1237.6 1406.4 L1235.4 1409.3 L1230.9 1406.6 L1227.8 1409.7 L1227.8 1409.7 L1230.5 1414.2 L1227.6 1416.4 L1224.1 1412.4 L1220.1 1414.4 L1220.1 1414.4 L1221.3 1419.5 L1217.9 1420.7 L1215.9 1415.8 L1211.4 1416.5 L1211.4 1416.5 L1211.0 1421.8 L1207.4 1421.8 L1207.0 1416.5 L1202.5 1415.8 L1202.5 1415.8 L1200.5 1420.7 L1197.1 1419.5 L1198.3 1414.4 L1194.3 1412.4 L1194.3 1412.4 L1190.8 1416.4 L1187.9 1414.2 L1190.6 1409.7 L1187.5 1406.6 L1187.5 1406.6 L1183.0 1409.3 L1180.8 1406.4 L1184.8 1402.9 L1182.8 1398.9 L1182.8 1398.9 L1177.7 1400.1 L1176.5 1396.7 L1181.4 1394.7 L1180.7 1390.2 L1180.7 1390.2 L1175.4 1389.8 L1175.4 1386.2 L1180.7 1385.8 L1181.4 1381.3 L1181.4 1381.3 L1176.5 1379.3 L1177.7 1375.9 L1182.8 1377.1 L1184.8 1373.1 L1184.8 1373.1 L1180.8 1369.6 L1183.0 1366.7 L1187.5 1369.4 L1190.6 1366.3 L1190.6 1366.3 L1187.9 1361.8 L1190.8 1359.6 L1194.3 1363.6 L1198.3 1361.6 L1198.3 1361.6 L1197.1 1356.5 L1200.5 1355.3 L1202.5 1360.2 L1207.0 1359.5 Z" fill="url(#lgG)"/></g>
<path d="M1209.2 1393.5 L1224.3 1405.6 A25.5 25.5 0 0 1 1194.3 1405.6 Z" fill="#3e3d3d"/>
<g stroke="#f4f4f4" fill="none" stroke-linecap="round">
<path d="M1190.5 1408 L1225 1374" stroke-width="4.6"/>
<path d="M1228 1408 L1194 1376.5" stroke-width="4.6"/>
</g>
<path d="M1187 1380.5 Q1190 1372.5 1200 1371.5 Q1206 1371 1208 1372.5 Q1202 1373.5 1199.5 1376 L1195.5 1379 L1191 1384.5 Z" fill="#f4f4f4"/>
<path d="M1221 1377 Q1219 1371.5 1226 1370.5 Q1222.5 1374 1225 1376.5 Q1228 1378 1230 1375 Q1231 1381 1225.5 1381.5 Z" fill="#f4f4f4"/>
</g>
<text x="1248.3" y="1397" font-size="38.6" style="fill:#3f3e3e" stroke="#3f3e3e" stroke-width="1.1" stroke-linejoin="round" letter-spacing="2.1">tooleroo</text>
</svg>
</div>
</body>
</html>
